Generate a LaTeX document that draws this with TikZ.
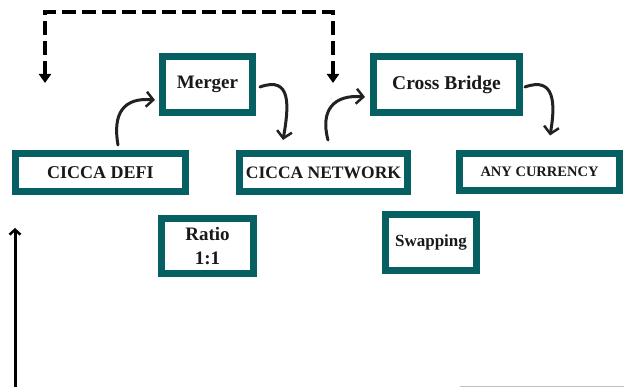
\documentclass[tikz,border=0pt]{standalone}
\definecolor{cicteal}{RGB}{6, 95, 96}
\definecolor{inkgray}{RGB}{34, 34, 34}
\usepackage{fontspec}
\setmainfont{Liberation Serif}
\usepackage{tikz}
\usetikzlibrary{arrows.meta, positioning}

\tikzset{
  cbox/.style={draw=cicteal, line width=7pt, fill=white, inner sep=0pt, align=center, text=black!90},
  curvy/.style={draw=inkgray, line width=3pt, line cap=round, -{Straight Barb[length=7pt, width=15pt, line width=2.5pt]}},
  dashlink/.style={draw=black, line width=3.5pt, dash pattern=on 14pt off 6pt, {Triangle[width=12pt, length=9pt]}-{Triangle[width=12pt, length=9pt]}}
}

\begin{document}
\begin{tikzpicture}[x=1pt, y=1pt]
  \useasboundingbox (0,0) rectangle (624,387);

  % boxes
  \node[cbox, minimum width=90pt, minimum height=56pt, font=\bfseries\fontsize{19}{22}\selectfont] (merger) at (207.5,302.5) {Merger};
  \node[cbox, minimum width=170pt, minimum height=38pt, font=\bfseries\fontsize{18}{22}\selectfont] (defi) at (100.5,214.5) {CICCA DEFI};
  \node[cbox, minimum width=168pt, minimum height=38pt, font=\bfseries\fontsize{17.5}{22}\selectfont] (network) at (323.5,214.5) {CICCA NETWORK};
  \node[cbox, minimum width=146pt, minimum height=56pt, font=\bfseries\fontsize{19.5}{22}\selectfont] (bridge) at (446.5,302.5) {Cross Bridge};
  \node[cbox, minimum width=160pt, minimum height=37pt, font=\bfseries\fontsize{14.5}{18}\selectfont] (currency) at (539.5,215) {ANY CURRENCY};
  \node[cbox, minimum width=92pt, minimum height=55pt, font=\bfseries\fontsize{19}{24}\selectfont] (ratio) at (207.5,141) {Ratio\\1:1};
  \node[cbox, minimum width=91pt, minimum height=56pt, font=\bfseries\fontsize{17}{22}\selectfont] (swapping) at (431,144.5) {Swapping};

  % curved links
  \draw[curvy] ([xshift=17.5pt, yshift=5pt]defi.north) to[out=100, in=175, looseness=1.4] ([xshift=-4pt, yshift=-15.5pt]merger.west);
  \draw[curvy] ([xshift=4pt, yshift=-2.5pt]merger.east) to[out=20, in=80, looseness=1.5] ([xshift=-40.5pt, yshift=10pt]network.north);
  \draw[curvy] ([xshift=4.5pt, yshift=10pt]network.north) to[out=105, in=175, looseness=1.4] ([xshift=-5pt, yshift=-12.5pt]bridge.west);
  \draw[curvy] ([xshift=2pt, yshift=-2.5pt]bridge.east) to[out=20, in=80, looseness=1.5] ([xshift=10.5pt, yshift=14.5pt]currency.north);

  % dashed loop
  \coordinate (dashL) at (45,304);
  \coordinate (dashR) at (333,304);
  \draw[dashlink] (dashL) -- ++(0,71) -| (dashR);

  % left arrow
  \coordinate (upfoot) at (15,0);
  \coordinate (uptip) at (15,159);
  \draw[black, line width=3pt, -{Straight Barb[length=5pt, width=11pt, line width=2.5pt]}] (upfoot) -- (uptip);

  % bottom rule
  \coordinate (ruleA) at (460,0.6);
  \coordinate (ruleB) at (624,0.6);
  \draw[black!25, line width=1.2pt] (ruleA) -- (ruleB);
\end{tikzpicture}
\end{document}
